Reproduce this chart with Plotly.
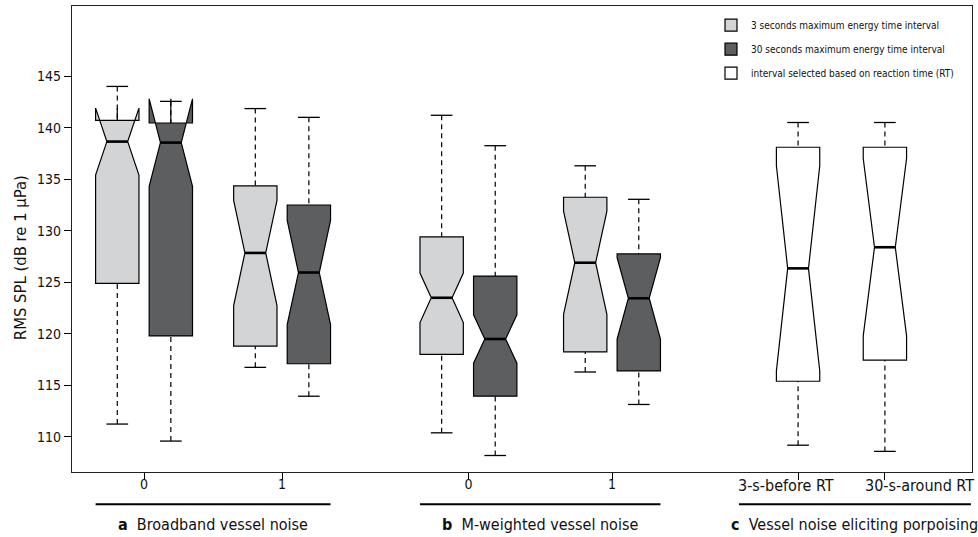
import plotly.graph_objects as go

# ---------------- data ----------------
group_ticks = [0.0, 1.0, 2.35, 3.39]          # positions of the "0"/"1" categories in panels a and b
group_ticktext = ["0", "1", "0", "1"]
c_ticks = [4.738, 5.367]                       # panel c categories
c_ticktext = ["3-s-before RT", "30-s-around RT"]

legend_names = ["3 seconds maximum energy time interval",
                "30 seconds maximum energy time interval",
                "interval selected based on reaction time (RT)"]

# light grey (3 s)  : a0, a1, b0, b1
light_lo    = [111.25, 116.75, 110.4, 116.3]
light_q1    = [124.9, 118.8, 118.0, 118.25]
light_med   = [138.65, 127.85, 123.5, 126.9]
light_q3    = [140.7, 134.35, 129.4, 133.25]
light_hi    = [144.0, 141.85, 141.2, 136.3]
light_notch = [3.25, 5.1, 2.4, 5.0]

# dark grey (30 s)  : a0, a1, b0, b1
dark_lo    = [109.6, 113.95, 108.2, 113.15]
dark_q1    = [119.8, 117.1, 113.95, 116.4]
dark_med   = [138.55, 125.95, 119.5, 123.45]
dark_q3    = [140.45, 132.5, 125.6, 127.75]
dark_hi    = [142.55, 141.0, 138.25, 133.05]
dark_notch = [4.25, 5.05, 2.35, 3.95]

# white (reaction time) : c1, c2
white_lo    = [109.2, 108.6]
white_q1    = [115.4, 117.45]
white_med   = [126.35, 128.4]
white_q3    = [138.1, 138.1]
white_hi    = [140.5, 140.5]
white_notch = [9.95, 8.6]

# ---------------- style ----------------
offset = 0.194
box_w = 0.314
notch_w = 0.26
FONT = "DejaVu Sans Condensed, DejaVu Sans, Verdana, sans-serif"
LIGHT = "#d3d4d6"
DARK = "#5d5e60"

light_x = [p - offset for p in group_ticks]
dark_x = [p + offset for p in group_ticks]
white_x = list(c_ticks)

fig = go.Figure()


def add_box(name, xs, q1, med, q3, notch, fill):
    fig.add_trace(go.Box(
        x=xs, q1=q1, median=med, q3=q3, lowerfence=q1, upperfence=q3,
        notchspan=notch, notched=True, notchwidth=notch_w, width=box_w,
        whiskerwidth=0, fillcolor=fill, boxpoints=False,
        line=dict(color="black", width=1.2), name=name, hoverinfo="skip",
        legendgroup=name))


add_box(legend_names[0], light_x, light_q1, light_med, light_q3, light_notch, LIGHT)
add_box(legend_names[1], dark_x, dark_q1, dark_med, dark_q3, dark_notch, DARK)
add_box(legend_names[2], white_x, white_q1, white_med, white_q3, white_notch, "white")

all_x = light_x + dark_x + white_x
all_lo = light_lo + dark_lo + white_lo
all_q1 = light_q1 + dark_q1 + white_q1
all_med = light_med + dark_med + white_med
all_q3 = light_q3 + dark_q3 + white_q3
all_hi = light_hi + dark_hi + white_hi

wx, wy, cx, cy, mx, my = [], [], [], [], [], []
cap_hw = box_w / 4
med_hw = box_w / 2 * (1 - 2 * notch_w)
for x, lo, q1, md, q3, hi in zip(all_x, all_lo, all_q1, all_med, all_q3, all_hi):
    wx += [x, x, None, x, x, None]
    wy += [hi, q3, None, lo, q1, None]
    cx += [x - cap_hw, x + cap_hw, None, x - cap_hw, x + cap_hw, None]
    cy += [hi, hi, None, lo, lo, None]
    mx += [x - med_hw, x + med_hw, None]
    my += [md, md, None]

fig.add_trace(go.Scatter(x=wx, y=wy, mode="lines", showlegend=False, hoverinfo="skip",
                         line=dict(color="black", width=1.2, dash="5px,4px")))
fig.add_trace(go.Scatter(x=cx, y=cy, mode="lines", showlegend=False, hoverinfo="skip",
                         line=dict(color="black", width=1.3)))
fig.add_trace(go.Scatter(x=mx, y=my, mode="lines", showlegend=False, hoverinfo="skip",
                         line=dict(color="black", width=2.6)))

# group underlines and labels
line_y = -0.0694
label_y = -0.112
groups = [
    (light_x[0] - box_w / 2, dark_x[1] + box_w / 2, "<b>a</b>  Broadband vessel noise"),
    (light_x[2] - box_w / 2, dark_x[3] + box_w / 2, "<b>b</b>  M-weighted vessel noise"),
    (4.31, 5.99, "<b>c</b>  Vessel noise eliciting porpoising"),
]
for x0, x1, txt in groups:
    fig.add_shape(type="line", xref="x", yref="paper", x0=x0, x1=x1, y0=line_y, y1=line_y,
                  line=dict(color="black", width=2))
    fig.add_annotation(x=(x0 + x1) / 2, y=label_y, xref="x", yref="paper", text=txt,
                       showarrow=False, font=dict(family=FONT, size=16, color="#111"),
                       xanchor="center", yanchor="middle")

for xc, txt in zip([4.652, 5.616], c_ticktext):
    fig.add_annotation(x=xc, y=-0.0286, xref="x", yref="paper", text=txt, showarrow=False,
                       font=dict(family=FONT, size=16, color="#111"),
                       xanchor="center", yanchor="middle")

fig.add_annotation(x=-0.0578, y=0.461, xref="paper", yref="paper", text="RMS SPL (dB re 1 μPa)",
                   textangle=-90, showarrow=False, font=dict(family=FONT, size=16.5, color="#111"),
                   xanchor="center", yanchor="middle")

fig.update_layout(
    width=978, height=537,
    margin=dict(l=72, r=6, t=6, b=65),
    paper_bgcolor="white", plot_bgcolor="white",
    font=dict(family=FONT, size=14, color="#111"),
    boxmode="overlay",
    legend=dict(x=0.71, y=0.99, xanchor="left", yanchor="top", bgcolor="rgba(0,0,0,0)",
                font=dict(family=FONT, size=10, color="#111"), traceorder="grouped",
                tracegroupgap=5),
    xaxis=dict(range=[-0.522, 5.998], tickvals=group_ticks + c_ticks,
               ticktext=group_ticktext + ["", ""], ticks="outside", ticklen=7,
               ticklabelstandoff=-8,
               tickcolor="black", showline=True, linecolor="#222", linewidth=1.3,
               mirror=True, showgrid=False, zeroline=False),
    yaxis=dict(range=[106.6, 151.8], tickvals=[110, 115, 120, 125, 130, 135, 140, 145],
               ticks="outside", ticklen=7, tickcolor="black", showline=True,
               linecolor="#222", linewidth=1.3, mirror=True, showgrid=False, zeroline=False),
)

fig.write_html("out.html", config={"displayModeBar": False},
               post_script="document.body.style.margin='0';document.body.style.padding='0';")
